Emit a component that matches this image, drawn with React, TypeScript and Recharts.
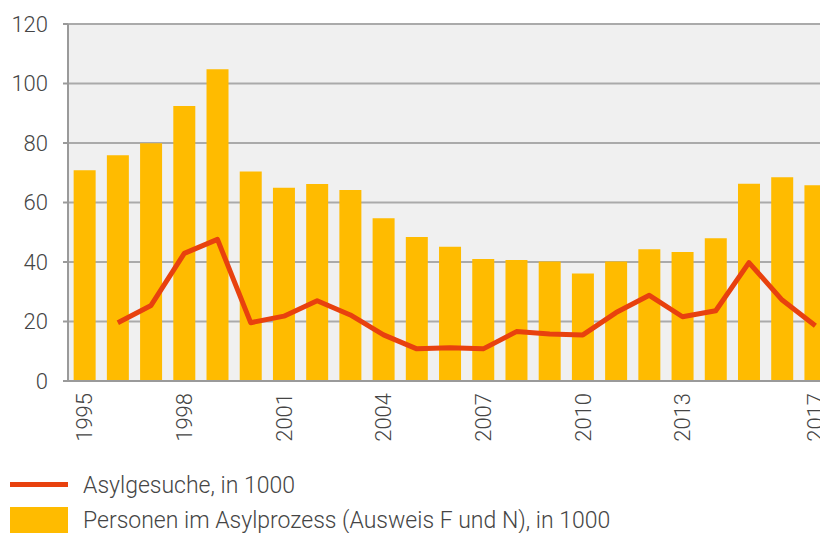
import React from "react";
import { ComposedChart, Bar, Line, XAxis, YAxis, CartesianGrid } from "recharts";

const years = [
  "1995", "1996", "1997", "1998", "1999", "2000", "2001", "2002", "2003", "2004", "2005", "2006",
  "2007", "2008", "2009", "2010", "2011", "2012", "2013", "2014", "2015", "2016", "2017",
];
const personen = [
  70.8, 75.9, 79.9, 92.4, 104.8, 70.4, 65.0, 66.2, 64.2, 54.7, 48.4, 45.1,
  41.0, 40.7, 40.2, 36.1, 40.2, 44.3, 43.4, 48.0, 66.3, 68.5, 65.8,
];
const asylgesuche: (number | null)[] = [
  null, 19.6, 25.4, 42.9, 47.6, 19.6, 21.8, 27.0, 22.2, 15.5, 10.8, 11.2,
  10.8, 16.6, 15.8, 15.5, 23.0, 28.8, 21.6, 23.6, 39.8, 27.2, 18.6,
];
const shownYearLabels = ["1995", "1998", "2001", "2004", "2007", "2010", "2013", "2017"];
const yTicks = [0, 20, 40, 60, 80, 100, 120];
const legendLine = "Asylgesuche, in 1000";
const legendBar = "Personen im Asylprozess (Ausweis F und N), in 1000";

const data = years.map((y, i) => ({ year: y, personen: personen[i], asyl: asylgesuche[i] }));

const BAR_COLOR = "#FFBB00";
const LINE_COLOR = "#E8410E";
const TEXT_COLOR = "#454545";
const FONT = "Roboto, 'Noto Sans', sans-serif";

const YearTick = (props: any) => {
  const { x, y, payload } = props;
  if (!shownYearLabels.includes(String(payload.value))) return <g />;
  return (
    <text
      x={x}
      y={y + 12}
      transform={`rotate(-90, ${x}, ${y + 12})`}
      textAnchor="end"
      dy="0.35em"
      fontSize={22}
      fontWeight={300}
      fontFamily={FONT}
      fill={TEXT_COLOR}
    >
      {payload.value}
    </text>
  );
};

const legendTextStyle: React.CSSProperties = {
  position: "absolute",
  left: 83,
  height: 30,
  lineHeight: "30px",
  fontSize: 23,
  fontWeight: 300,
  color: TEXT_COLOR,
  whiteSpace: "nowrap",
};

export default function App() {
  return (
    <div
      style={{
        position: "absolute",
        left: 0,
        top: 0,
        width: 820,
        height: 533,
        overflow: "hidden",
        background: "#ffffff",
        fontFamily: FONT,
      }}
    >
      <ComposedChart
        width={852}
        height={533}
        data={data}
        margin={{ top: 24, right: 20, left: 0, bottom: 0 }}
        barCategoryGap="17%"
      >
        <CartesianGrid
          vertical={false}
          fill="#F0F0F0"
          stroke="#AAAAAA"
          strokeWidth={2}
        />
        <XAxis
          dataKey="year"
          height={152}
          interval={0}
          tick={<YearTick />}
          tickLine={false}
          tickSize={0}
          tickMargin={0}
          axisLine={{ stroke: "#9A9A9A", strokeWidth: 2 }}
        />
        <YAxis
          width={68}
          domain={[0, 120]}
          ticks={yTicks}
          interval={0}
          tickSize={5}
          tickMargin={15}
          tickLine={{ stroke: "#9A9A9A", strokeWidth: 2 }}
          axisLine={{ stroke: "#9A9A9A", strokeWidth: 2 }}
          tick={{ fontSize: 22, fontWeight: 300, fill: TEXT_COLOR, fontFamily: FONT }}
        />
        <Bar dataKey="personen" fill={BAR_COLOR} isAnimationActive={false} />
        <Line
          dataKey="asyl"
          type="linear"
          stroke={LINE_COLOR}
          strokeWidth={5}
          dot={false}
          activeDot={false}
          strokeLinejoin="round"
          isAnimationActive={false}
        />
      </ComposedChart>
      <div style={{ position: "absolute", left: 10, top: 482, width: 58, height: 5, background: LINE_COLOR }} />
      <div style={{ ...legendTextStyle, top: 471 }}>{legendLine}</div>
      <div style={{ position: "absolute", left: 10, top: 507, width: 58, height: 26, background: BAR_COLOR }} />
      <div style={{ ...legendTextStyle, top: 506 }}>{legendBar}</div>
    </div>
  );
}
